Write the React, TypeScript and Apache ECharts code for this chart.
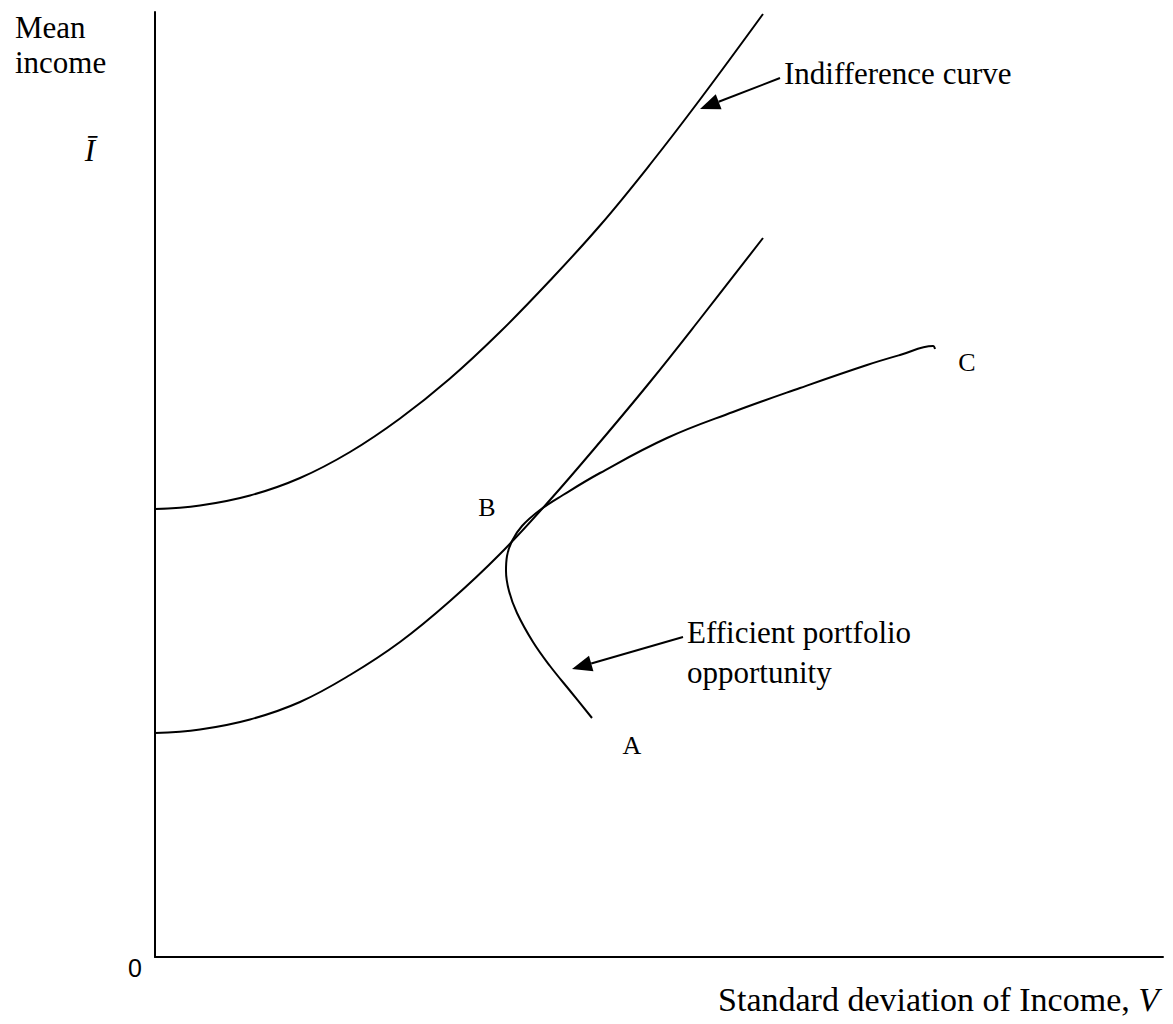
import React, { useEffect, useRef } from "react";
import * as echarts from "echarts";

// Data units: standard deviation of income (x) vs mean income (y)
const upperIndifference: [number, number][] = [
  [0, 44.8], [4.5, 45.15], [9.5, 46.15], [14.5, 47.9], [19.5, 50.5], [24.5, 53.85],
  [29.5, 57.85], [34.5, 62.5], [39.5, 67.65], [44.5, 73.15], [49.5, 79.25], [54.5, 85.75], [60.8, 94.3],
];

const lowerIndifference: [number, number][] = [
  [0, 22.4], [4.5, 22.75], [9.5, 23.75], [14.5, 25.5], [19.5, 28.2], [24.5, 31.5],
  [29.5, 35.6], [34.5, 40.3], [39.5, 45.7], [44.5, 51.5], [49.5, 57.5], [54.5, 63.8], [60.8, 71.9],
];

const efficientFrontier: [number, number][] = [
  [43.7, 23.9], [41.6, 26.5], [39.5, 29.1], [37.8, 31.5], [36.2, 34.4], [35.4, 36.6],
  [35.1, 38.6], [35.2, 40.1], [35.7, 41.6], [36.7, 43.1], [38.5, 44.7], [40.8, 46.2],
  [44.5, 48.4], [51.2, 51.9], [57.8, 54.5], [64.5, 56.9], [71.2, 59.2], [74.5, 60.2],
  [77.8, 61.1], [78.0, 60.8],
];

const pointLabels = ["A", "B", "C"];
const pointLabelAt: [number, number][] = [[47.7, 21.2], [33.2, 45.0], [81.2, 59.5]];

const arrowTexts: string[][] = [["Indifference curve"], ["Efficient portfolio", "opportunity"]];
const arrowFrom: [number, number][] = [[62.5, 87.9], [52.8, 32.0]];
const arrowTo: [number, number][] = [[54.5, 84.8], [41.7, 28.8]];

const xAxisTitle = "Standard deviation of Income, ";
const xAxisVar = "V";
const yAxisTitle = ["Mean", "income"];
const yAxisVar = "Ī";
const originLabel = "0";

const SERIF = "'Liberation Serif', 'Times New Roman', serif";

export default function App() {
  const ref = useRef<HTMLDivElement>(null);

  useEffect(() => {
    if (!ref.current) return;
    const chart = echarts.init(ref.current, undefined, { renderer: "svg" });
    const lineStyle = { color: "#000", width: 2 };
    const mkSeries = (name: string, data: [number, number][]) => ({
      name,
      type: "line",
      data,
      smooth: 0.4,
      showSymbol: false,
      symbol: "none",
      lineStyle,
      silent: true,
    });
    chart.setOption({
      animation: false,
      backgroundColor: "#fff",
      grid: { left: 155, right: 10, top: 12, bottom: 67 },
      xAxis: {
        type: "value",
        min: 0,
        max: 100.8,
        axisLine: { show: true, onZero: false, lineStyle: { color: "#000", width: 2 } },
        axisTick: { show: false },
        axisLabel: { show: false },
        splitLine: { show: false },
      },
      yAxis: {
        type: "value",
        min: 0,
        max: 94.5,
        axisLine: { show: true, onZero: false, lineStyle: { color: "#000", width: 2 } },
        axisTick: { show: false },
        axisLabel: { show: false },
        splitLine: { show: false },
      },
      series: [
        mkSeries("Upper indifference curve", upperIndifference),
        mkSeries("Lower indifference curve", lowerIndifference),
        mkSeries("Efficient portfolio opportunity", efficientFrontier),
      ],
    });

    const px = (p: [number, number]) => chart.convertToPixel({ gridIndex: 0 }, p) as number[];
    const elements: any[] = [];

    // axis titles
    elements.push({
      type: "text", x: 15, y: 27,
      style: { text: yAxisTitle[0], fontSize: 31, fontFamily: SERIF, fill: "#000", align: "left", verticalAlign: "middle" },
    });
    elements.push({
      type: "text", x: 15, y: 62,
      style: { text: yAxisTitle[1], fontSize: 31, fontFamily: SERIF, fill: "#000", align: "left", verticalAlign: "middle" },
    });
    elements.push({
      type: "text", x: 90, y: 150,
      style: { text: yAxisVar, fontSize: 31, fontFamily: SERIF, fontStyle: "italic", fill: "#000", align: "center", verticalAlign: "middle" },
    });
    elements.push({
      type: "text", x: 1159, y: 999,
      style: {
        text: xAxisTitle + "{i|" + xAxisVar + "}",
        fontSize: 34, fontFamily: SERIF, fill: "#000", align: "right", verticalAlign: "middle",
        rich: { i: { fontSize: 34, fontFamily: SERIF, fontStyle: "italic", fill: "#000" } },
      },
    });
    elements.push({
      type: "text", x: 135, y: 968,
      style: { text: originLabel, fontSize: 25, fontFamily: "'Liberation Sans', Arial, sans-serif", fill: "#000", align: "center", verticalAlign: "middle" },
    });

    // point labels
    pointLabels.forEach((lab, i) => {
      const p = px(pointLabelAt[i]);
      elements.push({
        type: "text", x: p[0], y: p[1],
        style: { text: lab, fontSize: 26, fontFamily: SERIF, fill: "#000", align: "center", verticalAlign: "middle" },
      });
    });

    // annotation arrows
    arrowTexts.forEach((lines, i) => {
      const s = px(arrowFrom[i]);
      const t = px(arrowTo[i]);
      const dx = t[0] - s[0];
      const dy = t[1] - s[1];
      const len = Math.hypot(dx, dy);
      const ux = dx / len;
      const uy = dy / len;
      const headLen = 20;
      const halfW = 8;
      const bx = t[0] - ux * headLen;
      const by = t[1] - uy * headLen;
      const nx = -uy;
      const ny = ux;
      elements.push({
        type: "line",
        shape: { x1: s[0], y1: s[1], x2: bx, y2: by },
        style: { stroke: "#000", lineWidth: 2 },
      });
      elements.push({
        type: "polygon",
        shape: { points: [[t[0], t[1]], [bx + nx * halfW, by + ny * halfW], [bx - nx * halfW, by - ny * halfW]] },
        style: { fill: "#000" },
      });
      lines.forEach((ln, j) => {
        elements.push({
          type: "text", x: s[0] + 4, y: s[1] - 5 + j * 40,
          style: { text: ln, fontSize: 31, fontFamily: SERIF, fill: "#000", align: "left", verticalAlign: "middle" },
        });
      });
    });

    chart.setOption({ graphic: { elements } });

    return () => chart.dispose();
  }, []);

  return (
    <div
      ref={ref}
      style={{ position: "absolute", left: 0, top: 0, width: 1173, height: 1024, background: "#fff" }}
    />
  );
}
